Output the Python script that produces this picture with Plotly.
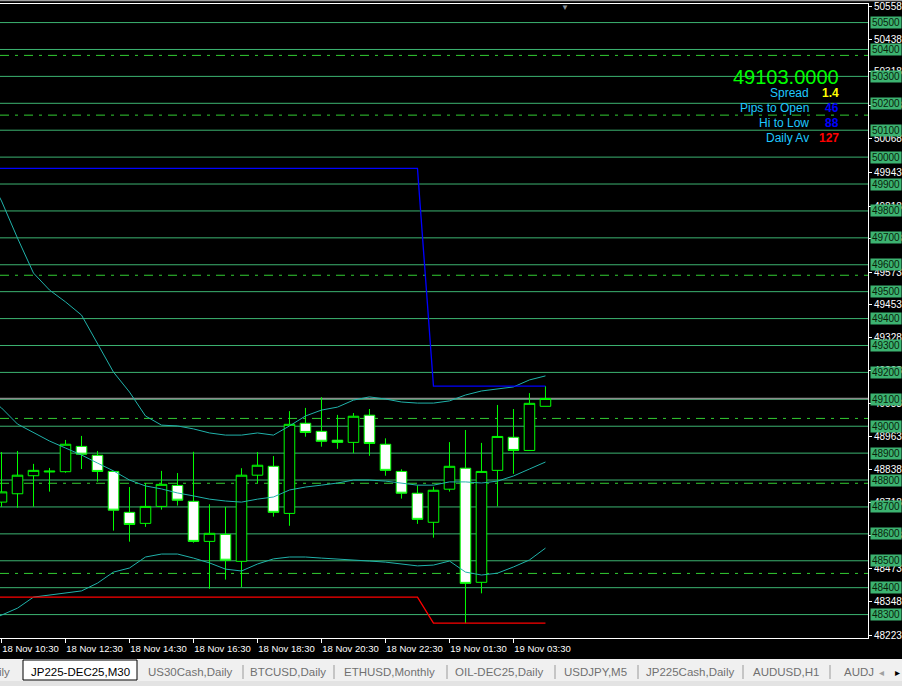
import plotly.graph_objects as go

# ---------------- data ----------------
times = ["18 Nov 10:30", "18 Nov 11:00", "18 Nov 11:30", "18 Nov 12:00", "18 Nov 12:30", "18 Nov 13:00",
         "18 Nov 13:30", "18 Nov 14:00", "18 Nov 14:30", "18 Nov 15:00", "18 Nov 15:30", "18 Nov 16:00",
         "18 Nov 16:30", "18 Nov 17:00", "18 Nov 17:30", "18 Nov 18:00", "18 Nov 18:30", "18 Nov 19:00",
         "18 Nov 19:30", "18 Nov 20:00", "18 Nov 20:30", "18 Nov 21:00", "18 Nov 21:30", "18 Nov 22:00",
         "18 Nov 22:30", "18 Nov 23:00", "18 Nov 23:30", "19 Nov 01:00", "19 Nov 01:30", "19 Nov 02:00",
         "19 Nov 02:30", "19 Nov 03:00", "19 Nov 03:30", "19 Nov 04:00", "19 Nov 04:30"]
bars = list(range(len(times)))

open_ = [48718, 48749, 48816, 48830, 48831, 48925, 48892, 48832, 48680, 48639, 48702, 48780, 48721, 48572,
         48598, 48498, 48818, 48851, 48676, 49011, 48981, 48948, 48940, 49041, 48933, 48832, 48751, 48643,
         48766, 48844, 48420, 48836, 48959, 48910, 49074]
high = [48904, 48908, 48860, 48845, 48949, 48964, 48908, 48833, 48774, 48789, 48834, 48826, 48905, 48710,
        48700, 48844, 48904, 48889, 49056, 49068, 49108, 49042, 49049, 49064, 48955, 48840, 48780, 48775,
        48941, 48986, 48938, 49079, 49064, 49123, 49149]
low = [48700, 48697, 48701, 48757, 48827, 48841, 48794, 48612, 48571, 48626, 48690, 48705, 48567, 48396,
       48430, 48402, 48788, 48664, 48630, 48961, 48924, 48916, 48900, 48890, 48816, 48731, 48637, 48586,
       48757, 48268, 48379, 48702, 48823, 48910, 49074]
close = [48756, 48818, 48836, 48833, 48933, 48896, 48832, 48688, 48635, 48702, 48784, 48725, 48572, 48602,
         48502, 48818, 48855, 48680, 49007, 48977, 48944, 48940, 49037, 48936, 48836, 48751, 48654, 48762,
         48851, 48416, 48832, 48962, 48910, 49085, 49103]

# Bollinger bands (bar -1 .. 34)
band_bars = list(range(-1, len(times)))
bb_upper = [49952, 49837, 49699, 49569, 49506, 49462, 49413, 49305, 49201, 49127, 49038, 49004, 49001, 48990,
            48975, 48967, 48967, 48975, 48967, 49001, 49038, 49060, 49071, 49097, 49109, 49101, 49090, 49086,
            49086, 49094, 49116, 49131, 49138, 49146, 49172, 49187]
bb_middle = [49112, 49068, 49008, 48975, 48945, 48919, 48893, 48863, 48834, 48800, 48778, 48767, 48752, 48741,
             48729, 48722, 48718, 48729, 48737, 48763, 48774, 48781, 48789, 48800, 48800, 48796, 48789, 48781,
             48781, 48793, 48793, 48789, 48796, 48815, 48841, 48867]
bb_lower = [48272, 48298, 48324, 48365, 48373, 48380, 48388, 48417, 48458, 48473, 48514, 48525, 48525, 48510,
            48492, 48469, 48462, 48488, 48507, 48514, 48514, 48510, 48507, 48503, 48499, 48495, 48488, 48481,
            48484, 48499, 48458, 48447, 48454, 48477, 48503, 48547]

# daily high / low lines (previous day, then current day)
day_bars = [-1, 26, 27, 34]
day_high = [49958, 49958, 49149, 49149]
day_low = [48365, 48365, 48268, 48268]

# horizontal levels
levels = [48300, 48400, 48500, 48600, 48700, 48800, 48900, 49000, 49100, 49200, 49300, 49400,
          49500, 49600, 49700, 49800, 49900, 50000, 50100, 50200, 50300, 50400, 50500]
pivots = [50378, 50156, 49561, 49029, 48788, 48453]
bid = 49103

axis_labels = [50558, 50438, 50318, 50193, 50068, 49943, 49818, 49698, 49573, 49453, 49328,
               49208, 49083, 48963, 48838, 48718, 48593, 48473, 48348, 48223]

info_price = "49103.0000"
info_names = ["Spread", "Pips to Open", "Hi to Low", "Daily Av"]
info_values = ["1.4", "46", "88", "127"]
info_value_colors = ["#ffff00", "#0000ff", "#0000ff", "#ff0000"]

tabs = ["ily", "JP225-DEC25,M30", "US30Cash,Daily", "BTCUSD,Daily", "ETHUSD,Monthly",
        "OIL-DEC25,Daily", "USDJPY,M5", "JP225Cash,Daily", "AUDUSD,H1", "AUDJ"]

# ---------------- layout helpers ----------------
W_PLOT = 868.0
H_PLOT = 634.0
TOP = 4.0


def px(x):
    return x / W_PLOT


def py(y):
    return (TOP + H_PLOT - y) / H_PLOT


FONT = "Liberation Sans, Arial, sans-serif"

fig = go.Figure()

fig.add_trace(go.Scatter(x=band_bars, y=bb_upper, mode="lines",
                         line=dict(color="#20b2aa", width=1), hoverinfo="skip"))
fig.add_trace(go.Scatter(x=band_bars, y=bb_middle, mode="lines",
                         line=dict(color="#20b2aa", width=1), hoverinfo="skip"))
fig.add_trace(go.Scatter(x=band_bars, y=bb_lower, mode="lines",
                         line=dict(color="#20b2aa", width=1), hoverinfo="skip"))
fig.add_trace(go.Scatter(x=day_bars, y=day_high, mode="lines",
                         line=dict(color="#0000ff", width=1.3), hoverinfo="skip"))
fig.add_trace(go.Scatter(x=day_bars, y=day_low, mode="lines",
                         line=dict(color="#ff0000", width=1.3), hoverinfo="skip"))

fig.add_trace(go.Candlestick(
    x=bars, open=open_, high=high, low=low, close=close,
    increasing=dict(line=dict(color="#00ff00", width=1), fillcolor="#000000"),
    decreasing=dict(line=dict(color="#00ff00", width=1), fillcolor="#ffffff"),
    whiskerwidth=0, hoverinfo="skip"))

shapes = []
for lv in levels:
    shapes.append(dict(type="line", xref="paper", yref="y", x0=0, x1=1, y0=lv, y1=lv,
                       line=dict(color="#3cb371", width=1), layer="below"))
for pv in pivots:
    shapes.append(dict(type="line", xref="paper", yref="y", x0=0, x1=1, y0=pv, y1=pv,
                       line=dict(color="#32cd32", width=1, dash="9px,6px,3px,6px"), layer="below"))
shapes.append(dict(type="line", xref="paper", yref="y", x0=0, x1=1, y0=bid, y1=bid,
                   line=dict(color="#8c8c8c", width=1.5), layer="below"))

# window top border
shapes.append(dict(type="line", xref="paper", yref="paper", x0=0, x1=px(902), y0=py(0.5), y1=py(0.5),
                   line=dict(color="#a0a0a0", width=1.5)))
# tab bar
shapes.append(dict(type="rect", xref="paper", yref="paper", x0=0, x1=px(902), y0=py(686), y1=py(659),
                   fillcolor="#f0f0f0", line=dict(width=0)))
shapes.append(dict(type="rect", xref="paper", yref="paper", x0=0, x1=px(902), y0=py(686), y1=py(681),
                   fillcolor="#e3e3e3", line=dict(width=0)))
shapes.append(dict(type="rect", xref="paper", yref="paper", x0=px(23), x1=px(137), y0=py(680), y1=py(660),
                   fillcolor="#ffffff", line=dict(color="#000000", width=1)))
for sx in [243, 334, 447, 555, 638, 743, 830]:
    shapes.append(dict(type="line", xref="paper", yref="paper", x0=px(sx), x1=px(sx), y0=py(679), y1=py(665),
                       line=dict(color="#9a9a9a", width=1)))

annotations = []
# green level boxes on the price scale
for lv in levels:
    annotations.append(dict(xref="paper", yref="y", x=1, y=lv, xanchor="left", yanchor="middle",
                            xshift=2, text=str(lv), showarrow=False, bgcolor="#3cb371",
                            width=30, height=11, borderpad=0,
                            font=dict(family=FONT, size=10, color="#0a1f0a")))
# info panel
annotations.append(dict(xref="paper", yref="paper", x=px(841), y=py(77), xanchor="right", yanchor="middle",
                        text=info_price, showarrow=False,
                        font=dict(family=FONT, size=20, color="#00ff00")))
row_y = [93, 108, 123, 138]
for name, val, col, yy in zip(info_names, info_values, info_value_colors, row_y):
    annotations.append(dict(xref="paper", yref="paper", x=px(811), y=py(yy), xanchor="right",
                            yanchor="middle", text=name, showarrow=False,
                            font=dict(family=FONT, size=12, color="#1ec8ff")))
    annotations.append(dict(xref="paper", yref="paper", x=px(841), y=py(yy), xanchor="right",
                            yanchor="middle", text="<b>" + val + "</b>", showarrow=False,
                            font=dict(family=FONT, size=12, color=col)))
# shift marker
annotations.append(dict(xref="paper", yref="paper", x=px(565), y=py(7), xanchor="center", yanchor="middle",
                        text="▼", showarrow=False, font=dict(size=8, color="#8a929a")))
# tabs
tab_x = [12, 80, 190, 287.5, 389.5, 499.5, 595.5, 689.5, 786, 842]
for i, (t, tx) in enumerate(zip(tabs, tab_x)):
    anchor = "right" if i == 0 else ("left" if i == len(tabs) - 1 else "center")
    annotations.append(dict(xref="paper", yref="paper", x=px(tx), y=py(672), xanchor=anchor,
                            yanchor="middle", text=t, showarrow=False,
                            font=dict(family=FONT, size=11.5, color="#000000" if i == 1 else "#707070")))
annotations.append(dict(xref="paper", yref="paper", x=px(881), y=py(672), xanchor="center", yanchor="middle",
                        text="◂", showarrow=False, font=dict(size=10, color="#a0a0a0")))
annotations.append(dict(xref="paper", yref="paper", x=px(897), y=py(672), xanchor="center", yanchor="middle",
                        text="▸", showarrow=False, font=dict(size=10, color="#000000")))

fig.update_layout(
    width=902, height=686,
    margin=dict(l=0, r=34, t=4, b=48, autoexpand=False),
    paper_bgcolor="#000000", plot_bgcolor="#000000",
    showlegend=False, boxgap=0.34, boxgroupgap=0,
    shapes=shapes, annotations=annotations,
    xaxis=dict(range=[-0.094, 54.16], rangeslider=dict(visible=False), showgrid=False, zeroline=False,
               automargin=False,
               showline=True, linecolor="#ffffff", linewidth=1, mirror=True,
               ticks="outside", ticklen=4, tickcolor="#ffffff", tickwidth=1,
               tickvals=bars[::4], ticktext=times[::4], ticklabelshift=29, ticklabelstandoff=-2,
               tickfont=dict(family=FONT, size=9.5, color="#ffffff")),
    yaxis=dict(range=[48213, 50569], side="right", showgrid=False, zeroline=False,
               automargin=False,
               showline=True, linecolor="#ffffff", linewidth=1,
               ticks="outside", ticklen=3, tickcolor="#ffffff", tickwidth=1,
               tickvals=axis_labels, ticktext=[str(v) for v in axis_labels],
               tickfont=dict(family=FONT, size=10, color="#ffffff")),
)

fig.write_html("out.html", config={"displayModeBar": False},
               post_script="document.body.style.margin='0';document.body.style.padding='0';"
                           "document.body.style.overflow='hidden';")
